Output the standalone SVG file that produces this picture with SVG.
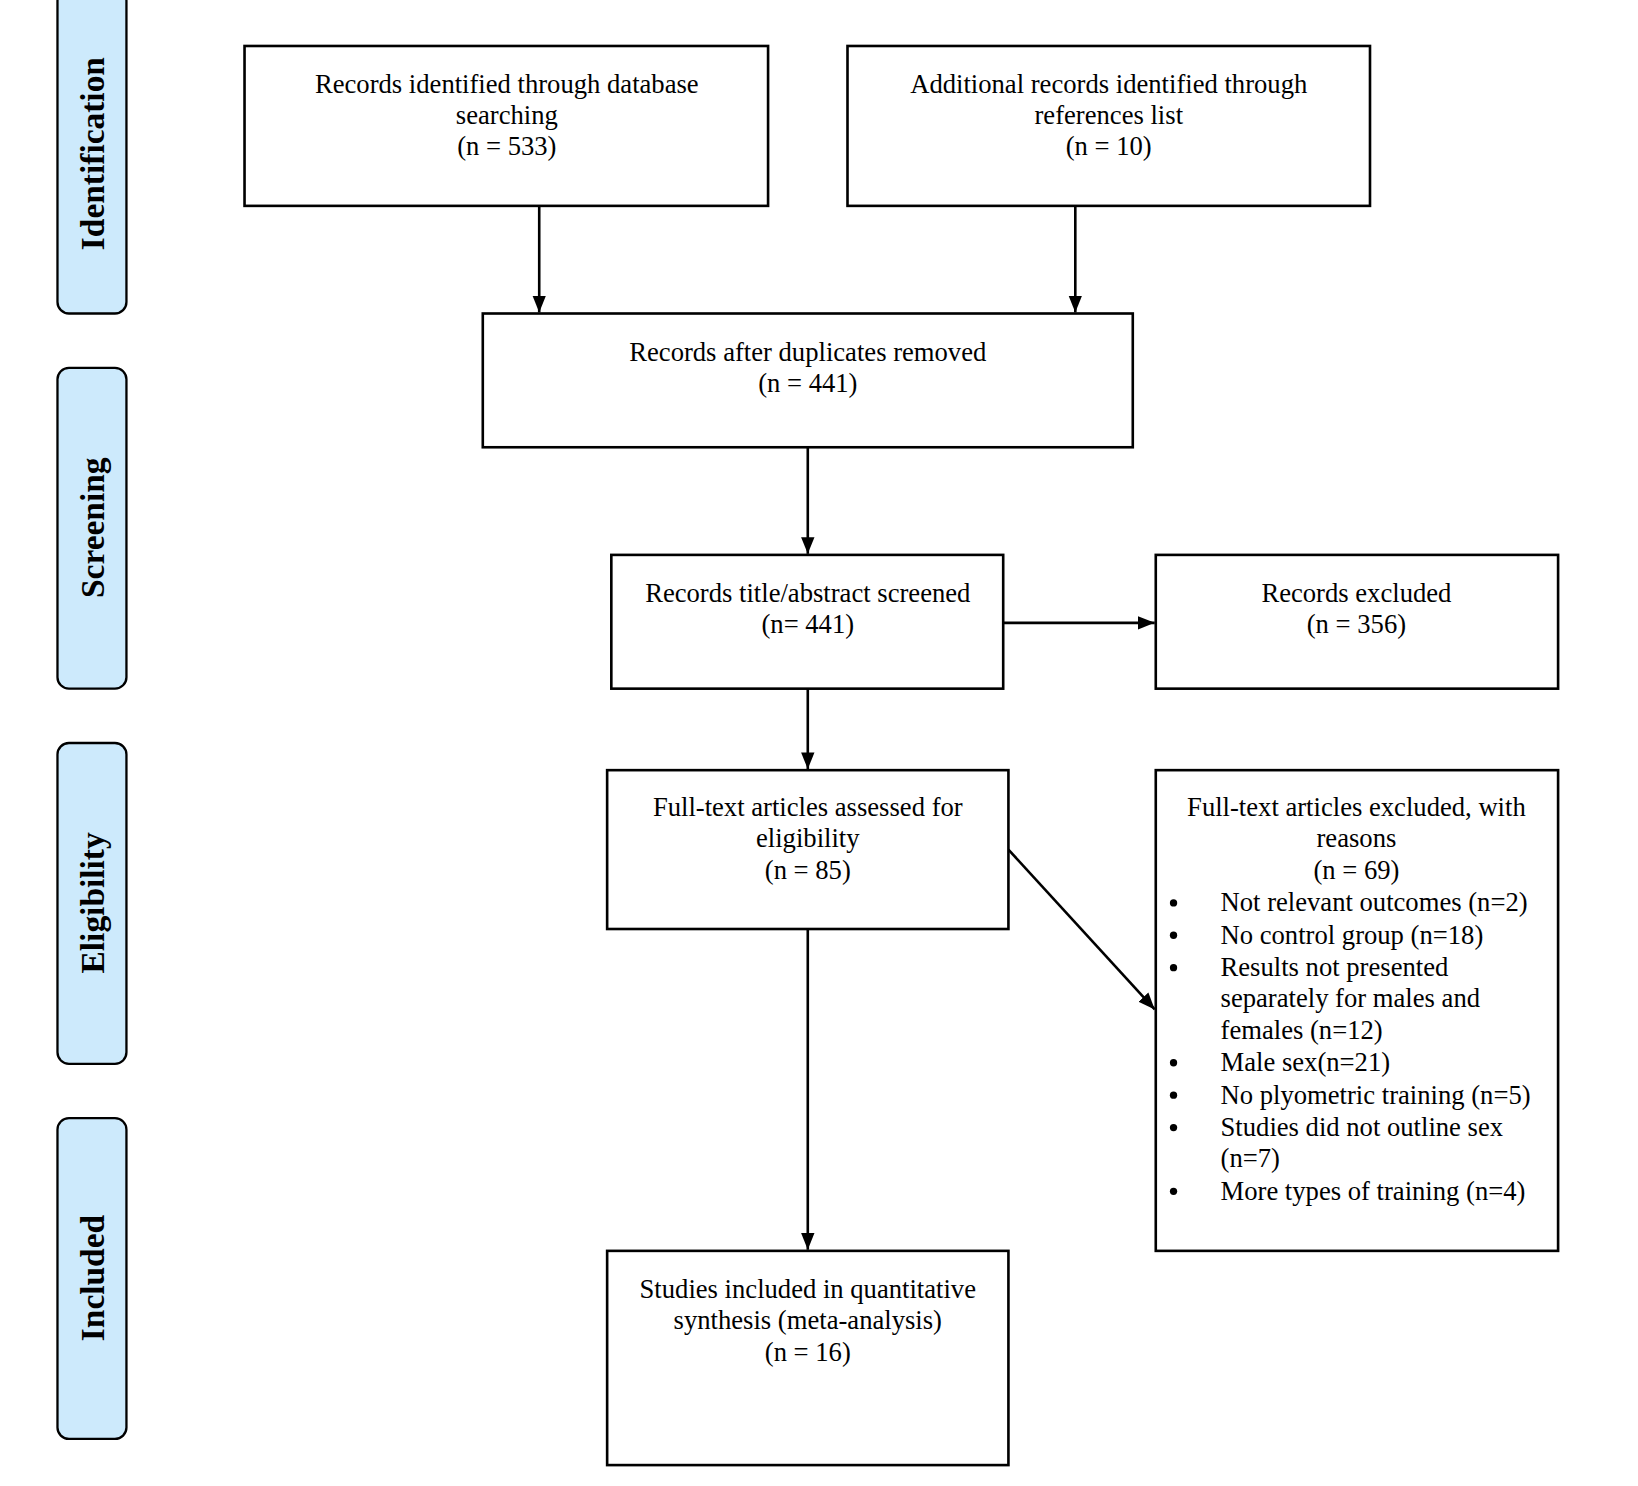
<svg xmlns="http://www.w3.org/2000/svg" width="1638" height="1486" viewBox="0 0 1638 1486">
<style>
.b{fill:#fff;stroke:#000;stroke-width:2.5}
.s{fill:#cdeafc;stroke:#000;stroke-width:2.2}
text{font-family:"Liberation Serif","Times New Roman",serif;font-size:25.5px;fill:#000}
.c{text-anchor:middle}
.l{font-weight:bold;font-size:32px;text-anchor:middle}
.e{stroke:#000;stroke-width:2.5;fill:none;marker-end:url(#a)}
</style>
<defs><marker id="a" viewBox="0 0 10 10" refX="10" refY="5" markerWidth="16" markerHeight="16" markerUnits="userSpaceOnUse" orient="auto"><path d="M0,1 L10,5 L0,9 z" fill="#000"/></marker></defs>
<rect width="1638" height="1486" fill="#fff"/>
<g transform="scale(1.045)">
<g id="stages">
<rect class="s" x="55" y="-10" width="66" height="310" rx="11"/>
<text class="l" transform="translate(100,147) rotate(-90)">Identification</text>
<rect class="s" x="55" y="352" width="66" height="307" rx="11"/>
<text class="l" transform="translate(100,505) rotate(-90)">Screening</text>
<rect class="s" x="55" y="711" width="66" height="307" rx="11"/>
<text class="l" transform="translate(100,864) rotate(-90)">Eligibility</text>
<rect class="s" x="55" y="1070" width="66" height="307" rx="11"/>
<text class="l" transform="translate(100,1223) rotate(-90)">Included</text>
</g>
<g id="connectors">
<line class="e" x1="516" y1="197" x2="516" y2="299"/>
<line class="e" x1="1029" y1="197" x2="1029" y2="299"/>
<line class="e" x1="773" y1="428" x2="773" y2="530"/>
<line class="e" x1="960" y1="596" x2="1105" y2="596"/>
<line class="e" x1="773" y1="659" x2="773" y2="736"/>
<line class="e" x1="773" y1="889" x2="773" y2="1196"/>
<line class="e" x1="965" y1="813" x2="1105" y2="966"/>
</g>
<g id="n1"><rect class="b" x="234" y="44" width="501" height="153"/>
<text class="c" x="485" y="89">Records identified through database</text><text class="c" x="485" y="119">searching</text><text class="c" x="485" y="148">(n = 533)</text></g>
<g id="n2"><rect class="b" x="811" y="44" width="500" height="153"/>
<text class="c" x="1061" y="89">Additional records identified through</text><text class="c" x="1061" y="119">references list</text><text class="c" x="1061" y="148">(n = 10)</text></g>
<g id="n3"><rect class="b" x="462" y="300" width="622" height="128"/>
<text class="c" x="773" y="345">Records after duplicates removed</text><text class="c" x="773" y="375">(n = 441)</text></g>
<g id="n4"><rect class="b" x="585" y="531" width="375" height="128"/>
<text class="c" x="773" y="576">Records title/abstract screened</text><text class="c" x="773" y="606">(n= 441)</text></g>
<g id="n5"><rect class="b" x="1106" y="531" width="385" height="128"/>
<text class="c" x="1298" y="576">Records excluded</text><text class="c" x="1298" y="606">(n = 356)</text></g>
<g id="n6"><rect class="b" x="581" y="737" width="384" height="152"/>
<text class="c" x="773" y="781">Full-text articles assessed for</text><text class="c" x="773" y="811">eligibility</text><text class="c" x="773" y="841">(n = 85)</text></g>
<g id="n7"><rect class="b" x="1106" y="737" width="385" height="460"/>
<text class="c" x="1298" y="781">Full-text articles excluded, with</text><text class="c" x="1298" y="811">reasons</text><text class="c" x="1298" y="841">(n = 69)</text>
<g>
<circle cx="1123" cy="864" r="3.5"/><circle cx="1123" cy="895" r="3.5"/><circle cx="1123" cy="926" r="3.5"/><circle cx="1123" cy="1017" r="3.5"/><circle cx="1123" cy="1048" r="3.5"/><circle cx="1123" cy="1079" r="3.5"/><circle cx="1123" cy="1140" r="3.5"/>
</g>
<text x="1168" y="872">Not relevant outcomes (n=2)</text>
<text x="1168" y="903">No control group (n=18)</text>
<text x="1168" y="934">Results not presented</text>
<text x="1168" y="964">separately for males and</text>
<text x="1168" y="994">females (n=12)</text>
<text x="1168" y="1025">Male sex(n=21)</text>
<text x="1168" y="1056">No plyometric training (n=5)</text>
<text x="1168" y="1087">Studies did not outline sex</text>
<text x="1168" y="1117">(n=7)</text>
<text x="1168" y="1148">More types of training (n=4)</text></g>
<g id="n8"><rect class="b" x="581" y="1197" width="384" height="205"/>
<text class="c" x="773" y="1242">Studies included in quantitative</text><text class="c" x="773" y="1272">synthesis (meta-analysis)</text><text class="c" x="773" y="1302">(n = 16)</text></g>
</g>
</svg>
